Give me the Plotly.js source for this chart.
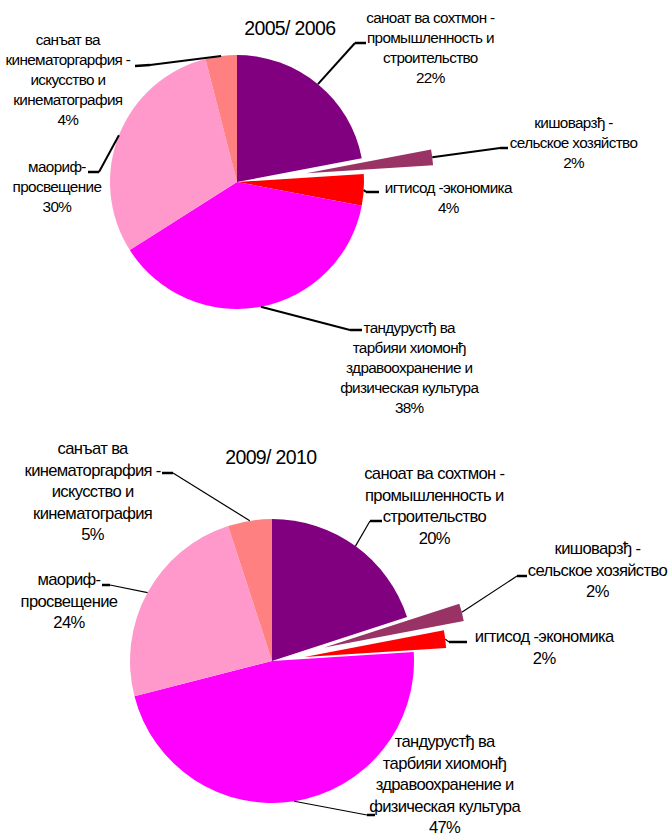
<!DOCTYPE html>
<html>
<head>
<meta charset="utf-8">
<script src="https://cdn.plot.ly/plotly-3.0.1.min.js"></script>
<style>
html,body{margin:0;padding:0;background:#fff;}
#chart{width:670px;height:839px;}
#chart .annotation-text{letter-spacing:-0.65px;}
</style>
</head>
<body>
<div id="chart"></div>
<script>
// ---------------- DATA ----------------
var categories = [
  "саноат ва сохтмон -<br>промышленность и<br>строительство",
  "кишоварзђ -<br>сельское хозяйство",
  "игтисод -экономика",
  "тандурустђ ва<br>тарбияи хиомонђ<br>здравоохранение и<br>физическая культура",
  "маориф-<br>просвещение",
  "санъат ва<br>кинематоргарфия -<br>искусство и<br>кинематография"
];
var values2005 = [22, 2, 4, 38, 30, 4];
var values2010 = [20, 2, 2, 47, 24, 5];
var titles = ["2005/ 2006", "2009/ 2010"];

// ---------------- STYLE / LAYOUT ----------------
var colors = ["#800080", "#993366", "#FF0000", "#FF00FF", "#FF99CC", "#FF8080"];
var W = 670, H = 839;
var FONT = "Liberation Sans, Arial, sans-serif";

var pies = [
  { values: values2005, title: titles[0], cx: 237, cy: 182, r: 127,
    pull: [0, 0.55, 0, 0, 0, 0], font: 15.3, diagW: 2, titlePos: [290, 28],
    labelPos: [[430, 47], [573, 142.5], [448, 197.5], [409, 367.5], [57, 186], [68, 79]],
    elbow: [[[355, 43], [366, 43]], [[500, 148], [508, 148]], [[366, 192], [379, 192]],
            [[350, 330], [362, 330]], [[99, 172], [88, 172]], [[150, 65], [135, 66]]] },
  { values: values2010, title: titles[1], cx: 272, cy: 661, r: 142,
    pull: [0, 0.38, 0.23, 0, 0, 0], font: 16.6, diagW: 1.2, titlePos: [271, 457],
    labelPos: [[434, 505.5], [597, 570], [544, 647], [445, 784], [69, 600.5], [92, 491.5]],
    elbow: [[[370, 521], [382, 521]], [[517, 576], [527, 576]], [[449, 642], [467, 642]],
            [[367, 815], [375, 815]], [[110, 585], [102, 585]], [[173, 473], [162, 473]]] }
];

function dom(cx, cy, r) {
  return { x: [(cx - r) / W, (cx + r) / W], y: [1 - (cy + r) / H, 1 - (cy - r) / H] };
}

var traces = [], shapes = [], annotations = [];

pies.forEach(function (p) {
  var total = p.values.reduce(function (a, b) { return a + b; }, 0);
  var cum = 0;
  var mainColors = colors.slice();
  var info = p.values.map(function (v, i) {
    var mid = (cum + v / 2) / total * 2 * Math.PI;
    cum += v;
    var dx = Math.sin(mid), dy = -Math.cos(mid);
    var off = p.pull[i] * p.r;
    return { dx: dx, dy: dy, off: off };
  });
  // main pie (exploded slices transparent here, drawn separately below)
  p.values.forEach(function (v, i) { if (p.pull[i] > 0) mainColors[i] = "rgba(0,0,0,0)"; });
  traces.push({
    type: "pie", values: p.values, labels: categories, sort: false, direction: "clockwise",
    rotation: 0, textinfo: "none", hoverinfo: "none", showlegend: false,
    marker: { colors: mainColors, line: { width: 0 } }, domain: dom(p.cx, p.cy, p.r)
  });
  // exploded slices
  p.values.forEach(function (v, i) {
    if (p.pull[i] <= 0) return;
    var c = colors.map(function (col, j) { return j === i ? col : "rgba(0,0,0,0)"; });
    traces.push({
      type: "pie", values: p.values, labels: categories, sort: false, direction: "clockwise",
      rotation: 0, textinfo: "none", hoverinfo: "none", showlegend: false,
      marker: { colors: c, line: { width: 0 } },
      domain: dom(p.cx + info[i].dx * info[i].off, p.cy + info[i].dy * info[i].off, p.r)
    });
  });
  // labels + leader lines
  p.values.forEach(function (v, i) {
    var d = info[i];
    var ax = p.cx + d.dx * (d.off + p.r), ay = p.cy + d.dy * (d.off + p.r);
    var e1 = p.elbow[i][0], e2 = p.elbow[i][1];
    shapes.push({ type: "line", xref: "x", yref: "y", x0: ax, y0: ay, x1: e1[0], y1: e1[1],
      line: { color: "#000", width: p.diagW } });
    shapes.push({ type: "line", xref: "x", yref: "y", x0: e1[0], y0: e1[1], x1: e2[0], y1: e2[1],
      line: { color: "#000", width: 2.5 } });
    annotations.push({ xref: "x", yref: "y", x: p.labelPos[i][0], y: p.labelPos[i][1],
      text: categories[i] + "<br>" + v + "%", showarrow: false, align: "center",
      xanchor: "center", yanchor: "middle", font: { family: FONT, size: p.font, color: "#000" } });
  });
  annotations.push({ xref: "x", yref: "y", x: p.titlePos[0], y: p.titlePos[1], text: p.title,
    showarrow: false, xanchor: "center", yanchor: "middle",
    font: { family: FONT, size: 19.5, color: "#000" } });
});

var layout = {
  width: W, height: H, margin: { l: 0, r: 0, t: 0, b: 0 },
  paper_bgcolor: "#fff", plot_bgcolor: "rgba(0,0,0,0)",
  xaxis: { range: [0, W], visible: false, fixedrange: true, domain: [0, 1] },
  yaxis: { range: [H, 0], visible: false, fixedrange: true, domain: [0, 1] },
  shapes: shapes, annotations: annotations, showlegend: false
};

Plotly.newPlot("chart", traces, layout, { staticPlot: true, displayModeBar: false });
</script>
</body>
</html>
